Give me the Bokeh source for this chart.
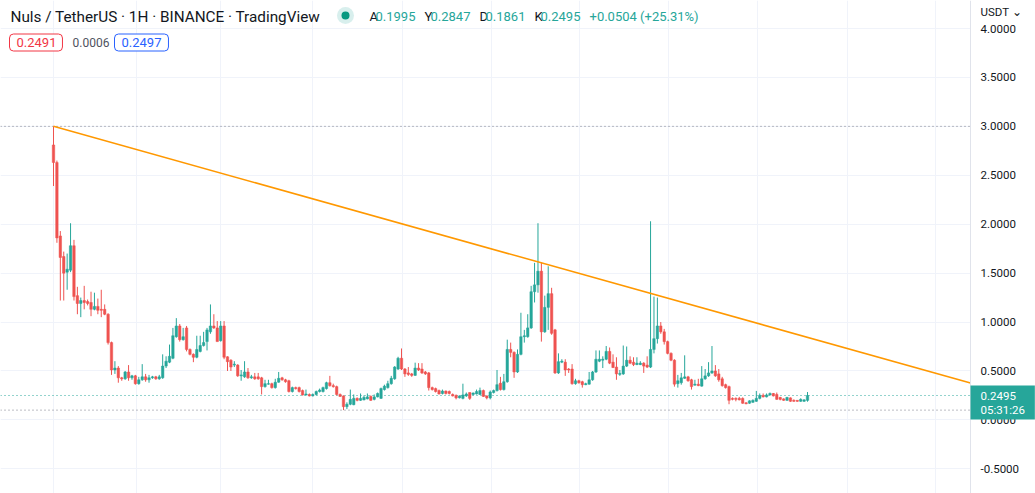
from bokeh.plotting import figure
from bokeh.models import ColumnDataSource, Span, Label, FixedTicker, Range1d
from bokeh.core.properties import value
from bokeh.embed import file_html
from bokeh.resources import INLINE

# ---------------- data (hourly candles, NULS/USDT) ----------------
opens = [
    2.81, 2.63, 1.88, 1.67, 1.51, 1.53, 1.78, 1.27, 1.19, 1.22,
    1.21, 1.20, 1.13, 1.16, 1.13, 1.13, 1.08, 0.79, 0.51, 0.53,
    0.43, 0.42, 0.49, 0.43, 0.45, 0.37, 0.41, 0.44, 0.41, 0.43,
    0.44, 0.42, 0.43, 0.55, 0.59, 0.63, 0.85, 0.96, 0.82, 0.94,
    0.72, 0.67, 0.64, 0.70, 0.76, 0.80, 0.90, 0.96, 0.94, 0.81,
    0.96, 0.645, 0.61, 0.56, 0.56, 0.45, 0.44, 0.49, 0.43, 0.44,
    0.44, 0.43, 0.34, 0.365, 0.37, 0.33, 0.385, 0.43, 0.41, 0.40,
    0.29, 0.33, 0.33, 0.30, 0.255, 0.26, 0.245, 0.26, 0.29, 0.29,
    0.32, 0.38, 0.35, 0.34, 0.26, 0.245, 0.135, 0.16, 0.155, 0.22,
    0.20, 0.205, 0.215, 0.24, 0.21, 0.235, 0.22, 0.31, 0.33, 0.37,
    0.42, 0.52, 0.63, 0.52, 0.48, 0.47, 0.455, 0.53, 0.52, 0.49,
    0.48, 0.33, 0.32, 0.30, 0.27, 0.295, 0.29, 0.26, 0.25, 0.225,
    0.22, 0.245, 0.28, 0.26, 0.265, 0.26, 0.30, 0.245, 0.225, 0.28,
    0.30, 0.375, 0.31, 0.39, 0.72, 0.69, 0.49, 0.67, 0.85, 0.85,
    0.94, 1.31, 1.38, 1.52, 0.90, 1.15, 1.29, 0.92, 0.48, 0.59,
    0.59, 0.52, 0.52, 0.37, 0.40, 0.39, 0.36, 0.365, 0.41, 0.49,
    0.60, 0.61, 0.62, 0.70, 0.59, 0.54, 0.465, 0.47, 0.55, 0.61,
    0.59, 0.565, 0.565, 0.58, 0.56, 0.54, 0.72, 0.83, 0.96, 0.90,
    0.80, 0.68, 0.61, 0.37, 0.38, 0.425, 0.44, 0.41, 0.355, 0.365,
    0.345, 0.42, 0.45, 0.48, 0.50, 0.47, 0.42, 0.36, 0.34, 0.22,
    0.22, 0.22, 0.22, 0.175, 0.17, 0.18, 0.19, 0.22, 0.25, 0.235,
    0.255, 0.27, 0.26, 0.23, 0.215, 0.20, 0.225, 0.20, 0.20, 0.19,
    0.19, 0.1995,
]
highs = [
    3.00, 2.65, 1.93, 1.72, 1.70, 2.01, 1.84, 1.36, 1.25, 1.37,
    1.23, 1.31, 1.30, 1.24, 1.33, 1.18, 1.09, 0.80, 0.60, 0.55,
    0.44, 0.50, 0.56, 0.46, 0.46, 0.44, 0.57, 0.47, 0.46, 0.45,
    0.45, 0.46, 0.67, 0.65, 0.77, 0.94, 1.04, 0.98, 0.94, 0.96,
    0.73, 0.68, 0.86, 0.86, 0.90, 0.94, 1.18, 1.08, 1.01, 1.01,
    1.01, 0.65, 0.62, 0.60, 0.57, 0.51, 0.60, 0.53, 0.46, 0.48,
    0.48, 0.44, 0.41, 0.41, 0.38, 0.42, 0.49, 0.44, 0.42, 0.41,
    0.34, 0.34, 0.34, 0.31, 0.31, 0.27, 0.27, 0.30, 0.32, 0.34,
    0.39, 0.45, 0.37, 0.35, 0.27, 0.25, 0.18, 0.31, 0.26, 0.23,
    0.27, 0.25, 0.27, 0.25, 0.26, 0.28, 0.33, 0.36, 0.40, 0.45,
    0.55, 0.645, 0.73, 0.53, 0.54, 0.48, 0.585, 0.58, 0.58, 0.50,
    0.49, 0.34, 0.33, 0.31, 0.31, 0.30, 0.30, 0.27, 0.26, 0.25,
    0.37, 0.28, 0.28, 0.28, 0.31, 0.33, 0.31, 0.25, 0.30, 0.31,
    0.51, 0.44, 0.47, 0.82, 0.79, 0.70, 0.72, 1.095, 0.92, 1.08,
    1.37, 1.605, 2.01, 1.61, 1.27, 1.57, 1.35, 0.93, 0.68, 0.62,
    0.62, 0.53, 0.57, 0.42, 0.41, 0.40, 0.38, 0.49, 0.50, 0.71,
    0.71, 0.65, 0.755, 0.74, 0.67, 0.64, 0.51, 0.76, 0.75, 0.65,
    0.64, 0.64, 0.60, 0.59, 0.65, 2.03, 1.26, 1.25, 1.00, 0.93,
    0.81, 0.69, 0.62, 0.46, 0.48, 0.66, 0.45, 0.42, 0.41, 0.42,
    0.55, 0.52, 0.59, 0.755, 0.56, 0.52, 0.44, 0.37, 0.35, 0.23,
    0.23, 0.235, 0.23, 0.18, 0.20, 0.21, 0.296, 0.27, 0.27, 0.27,
    0.28, 0.275, 0.28, 0.235, 0.22, 0.235, 0.23, 0.21, 0.20, 0.22,
    0.21, 0.2847,
]
lows = [
    2.39, 1.81, 1.22, 1.22, 1.33, 1.51, 1.22, 1.08, 1.05, 1.13,
    1.17, 1.06, 1.12, 1.08, 1.05, 1.07, 0.77, 0.46, 0.47, 0.38,
    0.40, 0.41, 0.40, 0.41, 0.36, 0.36, 0.40, 0.39, 0.38, 0.42,
    0.41, 0.41, 0.42, 0.53, 0.58, 0.62, 0.84, 0.80, 0.81, 0.70,
    0.66, 0.59, 0.63, 0.69, 0.75, 0.71, 0.88, 0.93, 0.80, 0.80,
    0.62, 0.50, 0.50, 0.54, 0.44, 0.40, 0.43, 0.42, 0.42, 0.41,
    0.41, 0.26, 0.33, 0.36, 0.32, 0.32, 0.38, 0.40, 0.38, 0.28,
    0.28, 0.31, 0.28, 0.25, 0.25, 0.24, 0.24, 0.25, 0.28, 0.28,
    0.31, 0.34, 0.33, 0.25, 0.235, 0.10, 0.11, 0.15, 0.15, 0.19,
    0.195, 0.20, 0.21, 0.195, 0.20, 0.23, 0.215, 0.30, 0.32, 0.36,
    0.41, 0.51, 0.51, 0.44, 0.45, 0.44, 0.45, 0.50, 0.47, 0.46,
    0.30, 0.30, 0.28, 0.26, 0.26, 0.26, 0.26, 0.24, 0.21, 0.22,
    0.21, 0.235, 0.205, 0.25, 0.26, 0.255, 0.235, 0.21, 0.21, 0.27,
    0.29, 0.30, 0.30, 0.38, 0.64, 0.43, 0.48, 0.66, 0.79, 0.84,
    0.93, 1.20, 1.30, 0.80, 0.89, 0.92, 0.87, 0.47, 0.47, 0.58,
    0.45, 0.48, 0.36, 0.36, 0.37, 0.33, 0.355, 0.36, 0.40, 0.48,
    0.59, 0.53, 0.61, 0.57, 0.53, 0.41, 0.45, 0.46, 0.54, 0.57,
    0.55, 0.56, 0.56, 0.48, 0.53, 0.53, 0.68, 0.78, 0.88, 0.77,
    0.67, 0.60, 0.34, 0.33, 0.36, 0.42, 0.39, 0.31, 0.35, 0.345,
    0.34, 0.41, 0.44, 0.47, 0.44, 0.39, 0.34, 0.32, 0.16, 0.20,
    0.19, 0.20, 0.165, 0.16, 0.165, 0.175, 0.185, 0.21, 0.23, 0.23,
    0.25, 0.24, 0.205, 0.20, 0.195, 0.195, 0.185, 0.185, 0.185, 0.185,
    0.185, 0.1861,
]
closes = [
    2.63, 1.86, 1.66, 1.50, 1.54, 1.78, 1.26, 1.19, 1.22, 1.20,
    1.19, 1.13, 1.16, 1.12, 1.12, 1.08, 0.79, 0.51, 0.53, 0.43,
    0.42, 0.49, 0.43, 0.45, 0.37, 0.41, 0.44, 0.41, 0.43, 0.44,
    0.42, 0.44, 0.55, 0.60, 0.65, 0.86, 0.96, 0.82, 0.85, 0.72,
    0.67, 0.64, 0.72, 0.76, 0.79, 0.92, 0.96, 0.94, 0.80, 0.96,
    0.64, 0.595, 0.54, 0.57, 0.45, 0.46, 0.49, 0.43, 0.44, 0.42,
    0.42, 0.34, 0.37, 0.37, 0.33, 0.385, 0.425, 0.41, 0.39, 0.29,
    0.33, 0.32, 0.29, 0.255, 0.265, 0.245, 0.26, 0.29, 0.305, 0.33,
    0.38, 0.35, 0.34, 0.26, 0.24, 0.135, 0.16, 0.21, 0.22, 0.20,
    0.22, 0.23, 0.235, 0.20, 0.235, 0.27, 0.32, 0.345, 0.37, 0.425,
    0.54, 0.63, 0.52, 0.47, 0.465, 0.455, 0.53, 0.51, 0.48, 0.47,
    0.33, 0.31, 0.29, 0.265, 0.295, 0.27, 0.27, 0.245, 0.225, 0.245,
    0.255, 0.265, 0.22, 0.275, 0.29, 0.30, 0.24, 0.225, 0.285, 0.30,
    0.36, 0.31, 0.39, 0.72, 0.69, 0.49, 0.67, 0.85, 0.86, 0.94,
    1.31, 1.38, 1.52, 0.90, 1.15, 1.29, 0.885, 0.48, 0.595, 0.60,
    0.51, 0.51, 0.37, 0.40, 0.38, 0.36, 0.37, 0.41, 0.49, 0.62,
    0.62, 0.62, 0.70, 0.58, 0.535, 0.47, 0.475, 0.55, 0.61, 0.58,
    0.565, 0.58, 0.58, 0.55, 0.54, 0.72, 0.83, 0.96, 0.90, 0.80,
    0.68, 0.61, 0.365, 0.40, 0.43, 0.44, 0.40, 0.34, 0.365, 0.35,
    0.42, 0.45, 0.48, 0.50, 0.45, 0.41, 0.35, 0.33, 0.20, 0.21,
    0.21, 0.205, 0.17, 0.165, 0.195, 0.20, 0.22, 0.25, 0.235, 0.255,
    0.27, 0.245, 0.21, 0.21, 0.20, 0.23, 0.19, 0.19, 0.19, 0.21,
    0.205, 0.2495,
]
price_ticks = [-0.5, 0.0, 0.5, 1.0, 1.5, 2.0, 2.5, 3.0, 3.5, 4.0]
day_ticks = [0, 24.3, 48.9, 76.0, 102.3, 128.4, 154.2, 180.3, 206.4, 232.6, 258.4]
trend_y = [3.0, 0.378]         # trendline from the first high to the price scale
last_price, countdown = "0.2495", "05:31:26"
legend_ohlc = [("A", "0.1995"), ("Y", "0.2847"), ("D", "0.1861"), ("K", "0.2495")]
legend_change = "+0.0504 (+25.31%)"
bid, spread, ask = "0.2491", "0.0006", "0.2497"
currency = "USDT"

n = len(closes)
assert len(opens) == len(highs) == len(lows) == n

UP, DOWN = "#26a69a", "#ef5350"
TXT = "#131722"
FONT = "Roboto"

# ---------------- layout geometry (pixels of the 1035x493 page) ----------------
W, H = 1035, 493
ppi = 754.0 / (n - 1)              # candle spacing in px
x0 = -53.0 / ppi
x1 = x0 + W / ppi
x_scale = x0 + 970.0 / ppi         # left edge of the price scale
x_lab = x0 + 980.0 / ppi
y_top, y_bot = 419.4 / 97.85, (419.4 - H) / 97.85

p = figure(width=W, height=H, output_backend="svg", toolbar_location=None,
           x_range=Range1d(x0, x1), y_range=Range1d(y_bot, y_top),
           min_border=0, min_border_left=0, min_border_right=0,
           min_border_top=0, min_border_bottom=0)
p.outline_line_color = None
p.background_fill_color = "white"
p.border_fill_color = "white"
p.xaxis.visible = False
p.yaxis.visible = False

p.xgrid.ticker = FixedTicker(ticks=day_ticks)
p.ygrid.ticker = FixedTicker(ticks=price_ticks)
p.grid.grid_line_color = "#f0f3fa"
p.grid.grid_line_width = 1

# ---------------- candles ----------------
xs = list(range(n))
colors = [UP if c >= o else DOWN for o, c in zip(opens, closes)]
src = ColumnDataSource(dict(
    x=xs, o=opens, h=highs, l=lows, c=closes,
    top=[max(o, c) for o, c in zip(opens, closes)],
    bot=[min(o, c) for o, c in zip(opens, closes)],
    color=colors))

# dotted reference lines (all-time high / low / last price)
for loc, col in [(max(highs), "#787b86"), (min(lows), "#787b86"), (closes[-1], UP)]:
    p.add_layout(Span(location=loc, dimension="width", line_color=col,
                      line_dash="1 3", line_width=1, level="underlay"))

p.segment(x0="x", y0="h", x1="x", y1="l", color="color", line_width=1, source=src)
p.vbar(x="x", width=0.72, top="top", bottom="bot", fill_color="color",
       line_color="color", line_width=0.5, source=src)

# trend line
p.line(x=[0, x_scale], y=trend_y, line_color="#ff9800", line_width=1.6)

# ---------------- price scale (drawn inside the canvas) ----------------
p.quad(left=x_scale, right=x1 + 5, bottom=y_bot - 1, top=y_top + 1,
       fill_color="white", line_color=None)
p.add_layout(Span(location=x_scale, dimension="height", line_color="#e0e3eb",
                  line_width=1))
p.text(x=[x_lab] * len(price_ticks), y=price_ticks,
       text=["%.4f" % t for t in price_ticks],
       text_font=value(FONT), text_font_size=value("11.5px"),
       text_color=TXT, text_baseline="middle", text_align="left")

def lab(px, py, text, color=TXT, size="13px", **kw):
    p.add_layout(Label(x=px, y=H - py, x_units="screen", y_units="screen",
                       text=text, text_font=FONT, text_font_size=size,
                       text_color=color, text_baseline="middle", **kw))

lab(980, 11, currency + " ⌄", size="11.5px")
# padding tuple order here: (left, right, top, bottom)
lab(970, 402, last_price + "\n" + countdown, color="white", size="11.5px",
    background_fill_color=UP, padding=(10, 10, 3, 3), text_line_height=1.0)

# ---------------- legend / header ----------------
lab(10, 16, "Nuls / TetherUS · 1H · BINANCE · TradingView", size="15.3px")

dot_x = x0 + 345.0 / ppi
dot_y = y_top - 15.0 / 97.85
p.scatter(x=[dot_x], y=[dot_y], size=17, fill_color=UP, fill_alpha=0.18, line_color=None)
p.scatter(x=[dot_x], y=[dot_y], size=8, fill_color="#089981", line_color=None)

for (letter, val), lx in zip(legend_ohlc, [369, 424, 479, 534]):
    lab(lx, 16, letter)
    lab(lx + 6, 16, val, color=UP)
lab(589, 16, legend_change, color=UP)

lab(9, 42, bid, color="#f23645", border_line_color="#f23645", border_line_width=1,
    border_radius=4, padding=(7, 6, 4, 4), background_fill_color="white")
lab(72, 42, spread, color="#50535e", size="12px")
lab(114, 42, ask, color="#2962ff", border_line_color="#2962ff", border_line_width=1,
    border_radius=4, padding=(7, 7, 4, 4), background_fill_color="white")

open("out.html", "w").write(file_html(p, INLINE))
